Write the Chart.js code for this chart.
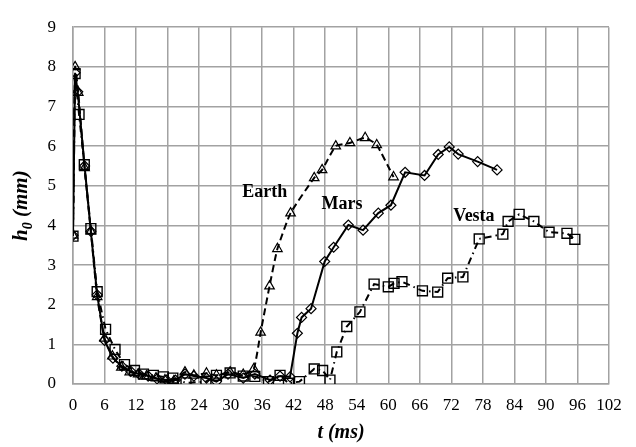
<!DOCTYPE html>
<html>
<head>
<meta charset="utf-8">
<script src="https://cdn.jsdelivr.net/npm/chart.js@4/dist/chart.umd.min.js"></script>
<style>
  html, body { margin: 0; padding: 0; background: #fff; }
  #wrap { width: 636px; height: 447px; }
</style>
</head>
<body>
<div id="wrap"><canvas id="chart"></canvas></div>
<script>
// time (ms) and film thickness h0 (mm) for each gravity case
const earthT = [0, 0.4, 1.0, 2.2, 3.4, 4.6, 6.0, 7.5, 9.2, 10.8, 12.4, 14.0, 15.8, 17.5, 19.2, 21.3, 23.0, 25.4, 27.3, 29.9, 32.4, 34.4, 35.7, 37.4, 38.9, 41.4, 45.9, 47.4, 50.0, 52.7, 55.6, 57.8, 61.0];
const earthH = [3.75, 8.0, 7.35, 5.45, 3.85, 2.2, 1.15, 0.7, 0.42, 0.3, 0.25, 0.2, 0.15, 0.1, 0.08, 0.3, 0.22, 0.27, 0.22, 0.3, 0.24, 0.38, 1.3, 2.47, 3.41, 4.31, 5.2, 5.4, 6.0, 6.08, 6.21, 6.03, 5.22];

const marsT = [0, 0.4, 0.9, 2.2, 3.4, 4.6, 6.0, 7.6, 9.3, 11.0, 12.6, 14.3, 16.0, 17.8, 19.5, 21.3, 23.0, 25.4, 27.3, 29.5, 32.4, 34.6, 37.5, 39.4, 41.3, 42.7, 43.5, 45.3, 47.9, 49.6, 52.4, 55.2, 58.1, 60.5, 63.2, 66.9, 69.5, 71.6, 73.3, 77.0, 80.7];
const marsH = [3.75, 7.85, 7.37, 5.5, 3.85, 2.25, 1.1, 0.65, 0.45, 0.32, 0.25, 0.2, 0.13, 0.1, 0.1, 0.25, 0.2, 0.15, 0.06, 0.25, 0.15, 0.25, 0.1, 0.2, 0.18, 1.28, 1.68, 1.9, 3.09, 3.45, 4.01, 3.88, 4.31, 4.51, 5.34, 5.26, 5.79, 5.98, 5.8, 5.61, 5.4];

const vestaT = [0, 0.4, 1.15, 2.15, 3.4, 4.6, 6.2, 8.0, 9.8, 11.7, 13.4, 15.3, 17.2, 19.0, 21.5, 25.3, 27.3, 29.9, 32.4, 34.6, 37.2, 39.4, 41.0, 43.1, 45.9, 47.5, 48.9, 50.2, 52.1, 54.6, 57.3, 60.0, 61.1, 62.6, 66.5, 69.4, 71.3, 74.2, 77.3, 81.8, 82.8, 84.9, 87.7, 90.6, 94.0, 95.5];
const vestaH = [3.73, 7.83, 6.8, 5.53, 3.92, 2.33, 1.38, 0.87, 0.49, 0.34, 0.25, 0.22, 0.18, 0.15, 0.03, 0.06, 0.22, 0.28, 0.2, 0.19, 0.06, 0.22, 0.02, 0.06, 0.38, 0.34, 0.1, 0.81, 1.45, 1.82, 2.52, 2.45, 2.54, 2.58, 2.35, 2.32, 2.67, 2.70, 3.66, 3.78, 4.1, 4.28, 4.1, 3.83, 3.8, 3.65];

// series names and where they sit on the plot (data units)
const seriesNames = ['Earth', 'Mars', 'Vesta'];
const nameAt = [[36.5, 4.83], [51.2, 4.54], [76.3, 4.22]];

const toPoints = (ts, hs) => ts.map((t, i) => ({ x: t, y: hs[i] }));

const serif = '"Liberation Serif", "Times New Roman", serif';
const gridColor = '#a2a2a2';

// bold names next to each curve
const seriesLabels = {
  id: 'seriesLabels',
  afterDatasetsDraw(chart) {
    const { ctx, scales: { x, y } } = chart;
    ctx.save();
    ctx.font = 'bold 18px ' + serif;
    ctx.fillStyle = '#000';
    ctx.textAlign = 'center';
    ctx.textBaseline = 'middle';
    seriesNames.forEach((name, i) => {
      ctx.fillText(name, x.getPixelForValue(nameAt[i][0]), y.getPixelForValue(nameAt[i][1]));
    });
    ctx.restore();
  }
};

// y axis title with subscript: h0 (mm)
const yTitle = {
  id: 'yTitle',
  afterDraw(chart) {
    const { ctx, chartArea } = chart;
    const cy = (chartArea.top + chartArea.bottom) / 2;
    ctx.save();
    ctx.translate(22, cy);
    ctx.rotate(-Math.PI / 2);
    ctx.fillStyle = '#000';
    ctx.textBaseline = 'middle';
    const big = 'italic bold 21px ' + serif;
    const small = 'italic bold 14px ' + serif;
    ctx.font = big;
    const wH = ctx.measureText('h').width;
    const wRest = ctx.measureText(' (mm)').width;
    ctx.font = small;
    const wSub = ctx.measureText('0').width;
    let xPos = -(wH + wSub + wRest) / 2;
    ctx.font = big;
    ctx.fillText('h', xPos, 0);
    xPos += wH;
    ctx.font = small;
    ctx.fillText('0', xPos, 6);
    xPos += wSub;
    ctx.font = big;
    ctx.fillText(' (mm)', xPos, 0);
    ctx.restore();
  }
};

new Chart(document.getElementById('chart'), {
  type: 'scatter',
  data: {
    datasets: [
      {
        label: 'Earth',
        data: toPoints(earthT, earthH),
        showLine: true,
        borderColor: '#000',
        borderWidth: 2,
        borderDash: [7, 4],
        tension: 0.15,
        pointStyle: 'triangle',
        pointRadius: 5.5,
        pointBorderWidth: 1.2,
        pointBorderColor: '#000',
        pointBackgroundColor: 'rgba(255,255,255,0)'
      },
      {
        label: 'Mars',
        data: toPoints(marsT, marsH),
        showLine: true,
        borderColor: '#000',
        borderWidth: 2,
        pointStyle: 'rectRot',
        pointRadius: 5,
        pointBorderWidth: 1.2,
        pointBorderColor: '#000',
        pointBackgroundColor: 'rgba(255,255,255,0)'
      },
      {
        label: 'Vesta',
        data: toPoints(vestaT, vestaH),
        showLine: true,
        borderColor: '#000',
        borderWidth: 2,
        borderDash: [7, 4, 1.5, 4],
        pointStyle: 'rect',
        pointRadius: 7,
        pointBorderWidth: 1.4,
        pointBorderColor: '#000',
        pointBackgroundColor: 'rgba(255,255,255,0)'
      }
    ]
  },
  options: {
    responsive: true,
    maintainAspectRatio: false,
    animation: false,
    layout: { padding: { top: 15, right: 27, left: 0, bottom: 0 } },
    plugins: {
      legend: { display: false },
      tooltip: { enabled: false }
    },
    scales: {
      x: {
        type: 'linear',
        min: 0,
        max: 102,
        afterFit: s => { s.height = 63; },
        ticks: {
          stepSize: 6,
          padding: 11,
          color: '#000',
          font: { family: serif, size: 17 }
        },
        grid: { color: gridColor, lineWidth: 1.5, drawTicks: false },
        border: { color: gridColor, width: 1.5 },
        title: {
          display: true,
          text: 't (ms)',
          color: '#000',
          padding: { top: 0, bottom: 2 },
          font: { family: serif, size: 20, style: 'italic', weight: 'bold' }
        }
      },
      y: {
        min: 0,
        max: 9,
        afterFit: s => { s.width = 73; },
        ticks: {
          stepSize: 1,
          padding: 17,
          color: '#000',
          font: { family: serif, size: 17 }
        },
        grid: { color: gridColor, lineWidth: 1.5, drawTicks: false },
        border: { color: gridColor, width: 1.5 }
      }
    }
  },
  plugins: [seriesLabels, yTitle]
});
</script>
</body>
</html>
